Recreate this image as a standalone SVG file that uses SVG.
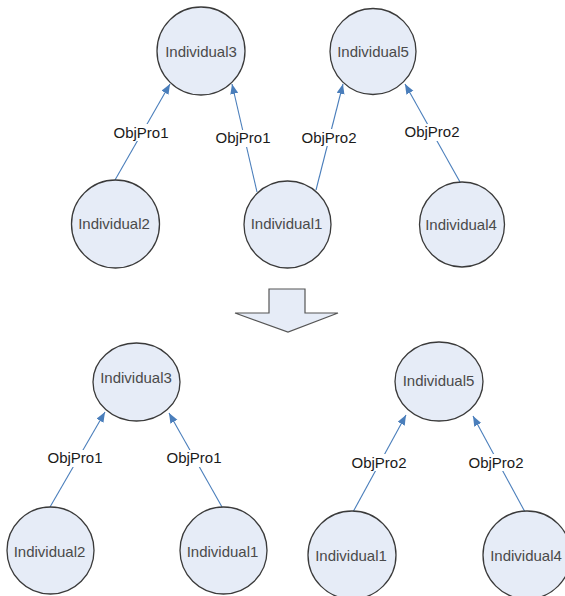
<svg xmlns="http://www.w3.org/2000/svg" width="565" height="596" viewBox="0 0 565 596">
<defs>
<marker id="arr" markerUnits="userSpaceOnUse" markerWidth="11" markerHeight="9" refX="10" refY="4" orient="auto">
<path d="M0,0 L10,4 L0,8 z" fill="#4a7ebb"/>
</marker>
<style>
.node{fill:#e6ecf7;stroke:#3a3a3a;stroke-width:1.3}
.nt{font-family:"Liberation Sans",Arial,sans-serif;font-size:15px;fill:#4a4a4a;text-anchor:middle}
.edge{stroke:#4a7ebb;stroke-width:1.1;fill:none;marker-end:url(#arr)}
.lb{fill:#ffffff}
.lt{font-family:"Liberation Sans",Arial,sans-serif;font-size:15px;fill:#1a1a1a;text-anchor:middle}
.big{fill:#e6ecf7;stroke:#555555;stroke-width:1.2}
</style>
</defs>
<rect width="565" height="596" fill="#ffffff"/>
<g id="connectors">
<line class="edge" x1="115" y1="180" x2="170" y2="84"/>
<line class="edge" x1="257" y1="192" x2="232" y2="84"/>
<line class="edge" x1="316" y1="190" x2="343" y2="84"/>
<line class="edge" x1="460" y1="182" x2="405" y2="84"/>
<line class="edge" x1="50" y1="507" x2="105" y2="412"/>
<line class="edge" x1="222" y1="507" x2="169" y2="413"/>
<line class="edge" x1="353" y1="512" x2="406" y2="415"/>
<line class="edge" x1="525" y1="512" x2="473" y2="416"/>
<rect class="lb" x="112" y="124" width="58" height="17"/>
<text class="lt" x="141" y="137.5">ObjPro1</text>
<rect class="lb" x="214" y="130" width="58" height="17"/>
<text class="lt" x="243" y="143">ObjPro1</text>
<rect class="lb" x="300" y="129" width="58" height="17"/>
<text class="lt" x="329" y="142.5">ObjPro2</text>
<rect class="lb" x="403" y="124" width="58" height="17"/>
<text class="lt" x="432" y="137">ObjPro2</text>
<rect class="lb" x="46" y="450" width="58" height="17"/>
<text class="lt" x="75" y="463">ObjPro1</text>
<rect class="lb" x="165" y="450" width="58" height="17"/>
<text class="lt" x="194" y="463">ObjPro1</text>
<rect class="lb" x="350" y="454" width="58" height="17"/>
<text class="lt" x="379" y="467.5">ObjPro2</text>
<rect class="lb" x="467" y="454" width="58" height="17"/>
<text class="lt" x="496" y="467.5">ObjPro2</text>
</g>
<g id="n_top_ind3"><circle class="node" cx="201" cy="51" r="44"/><text class="nt" x="201" y="56.7">Individual3</text></g>
<g id="n_top_ind5"><circle class="node" cx="373" cy="51.5" r="43"/><text class="nt" x="373" y="56.7">Individual5</text></g>
<g id="n_top_ind2"><circle class="node" cx="115.5" cy="224" r="44"/><text class="nt" x="114" y="229.3">Individual2</text></g>
<g id="n_top_ind1"><circle class="node" cx="287.5" cy="224.5" r="43.5"/><text class="nt" x="286.5" y="229.3">Individual1</text></g>
<g id="n_top_ind4"><circle class="node" cx="462" cy="224.5" r="42.5"/><text class="nt" x="461" y="229.5">Individual4</text></g>
<g id="transform_arrow"><polygon class="big" points="269,289 305,289 305,313 338,313 288,332 235,313 269,313"/></g>
<g id="n_bot_ind3"><ellipse class="node" cx="136.5" cy="382" rx="43.5" ry="39"/><text class="nt" x="136" y="383">Individual3</text></g>
<g id="n_bot_ind5"><ellipse class="node" cx="439" cy="381.5" rx="44" ry="39.5"/><text class="nt" x="438.5" y="386">Individual5</text></g>
<g id="n_bot_ind2"><circle class="node" cx="50.5" cy="550.5" r="43.5"/><text class="nt" x="49.5" y="556.7">Individual2</text></g>
<g id="n_bot_ind1a"><circle class="node" cx="223.5" cy="550.5" r="43.5"/><text class="nt" x="222.5" y="556.7">Individual1</text></g>
<g id="n_bot_ind1b"><circle class="node" cx="352" cy="555" r="44"/><text class="nt" x="351" y="560.7">Individual1</text></g>
<g id="n_bot_ind4"><circle class="node" cx="527" cy="555" r="44"/><text class="nt" x="526" y="560.7">Individual4</text></g>
</svg>
